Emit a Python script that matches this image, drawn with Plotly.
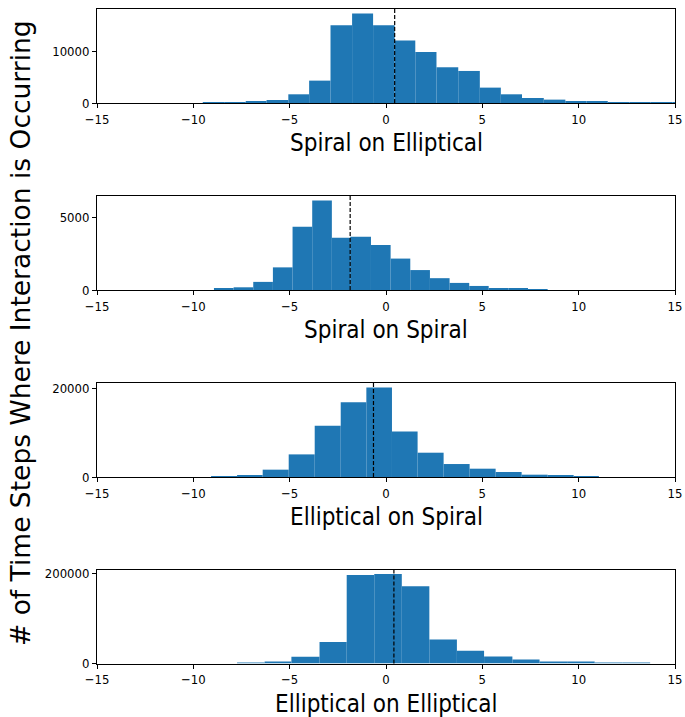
import plotly.graph_objects as go

W, H = 685, 717

# ---------------- data ----------------
titles = ["Spiral on Elliptical", "Spiral on Spiral", "Elliptical on Spiral", "Elliptical on Elliptical"]

edges_se = [-9.51, -8.40, -7.28, -6.20, -5.07, -3.99, -2.88, -1.76, -0.67, 0.45, 1.52, 2.62, 3.75,
            4.87, 5.96, 7.06, 8.19, 9.31, 10.40, 11.51, 12.63, 13.74, 14.86, 15.97]
counts_se = [150, 170, 200, 580, 1680, 4320, 15030, 17290, 15030, 12060, 9870, 6900, 6190,
             2970, 1680, 970, 650, 390, 220, 180, 160, 150, 140]
mean_se = 0.45

edges_ss = [-8.93, -7.91, -6.89, -5.87, -4.85, -3.83, -2.81, -1.86, -0.78, 0.24, 1.26, 2.28, 3.30,
            4.32, 5.33, 6.35, 7.37, 8.39]
counts_ss = [70, 186, 558, 1558, 4349, 6163, 3605, 3674, 3093, 2163, 1372, 814, 488, 279, 140, 70, 60]
mean_ss = -1.86

edges_es = [-9.08, -7.73, -6.40, -5.05, -3.70, -2.35, -1.02, 0.31, 1.64, 2.99, 4.34, 5.69, 7.04,
            8.39, 9.74, 11.05]
counts_es = [225, 450, 1650, 5090, 11540, 16850, 20150, 10260, 5470, 2920, 1870, 1120, 520, 300, 225]
mean_es = -0.65

edges_ee = [-7.73, -6.30, -4.91, -3.45, -2.04, -0.61, 0.82, 2.25, 3.68, 5.09, 6.56, 7.97, 9.40,
            10.83, 12.28, 13.71]
counts_ee = [2200, 4400, 14800, 47400, 196300, 198500, 171100, 53300, 28100, 15600, 8900, 4400,
             3000, 2200, 2200]
mean_ee = 0.41

y_ticks = [[0, 10000], [0, 5000], [0, 20000], [0, 200000]]
x_ticks = [-15, -10, -5, 0, 5, 10, 15]

panels = [
    (edges_se, counts_se, mean_se),
    (edges_ss, counts_ss, mean_ss),
    (edges_es, counts_es, mean_es),
    (edges_ee, counts_ee, mean_ee),
]

# ---------------- layout ----------------
TICKFONT = "DejaVu Sans Condensed, Liberation Sans Narrow, DejaVu Sans, sans-serif"
LABELFONT = TICKFONT
x0_px, x1_px = 97, 675
tops = [9, 196, 383, 569.5]
ph = 94

def fmt(v):
    s = str(abs(v))
    return ("\u2212" + s) if v < 0 else s

fig = go.Figure()
layout = dict(
    width=W, height=H,
    margin=dict(l=0, r=0, t=0, b=0, autoexpand=False),
    paper_bgcolor="white", plot_bgcolor="white",
    showlegend=False,
    annotations=[], shapes=[],
)

for i, (edges, counts, mean) in enumerate(panels):
    n = i + 1
    xa = "x" if n == 1 else f"x{n}"
    ya = "y" if n == 1 else f"y{n}"
    centers = [(edges[k] + edges[k + 1]) / 2 for k in range(len(counts))]
    widths = [edges[k + 1] - edges[k] for k in range(len(counts))]
    fig.add_trace(go.Bar(x=centers, y=counts, width=widths, xaxis=xa, yaxis=ya,
                         marker=dict(color="#1f77b4", line=dict(width=0)),
                         hoverinfo="skip"))
    top = tops[i]
    bot = top + ph
    ymax = max(counts) * 1.05
    layout["xaxis" if n == 1 else f"xaxis{n}"] = dict(
        domain=[x0_px / W, x1_px / W], anchor=ya, range=[-15, 15],
        tickvals=x_ticks, ticktext=[fmt(v) for v in x_ticks],
        ticks="outside", ticklen=4, tickwidth=1, tickcolor="black",
        showline=True, linecolor="black", linewidth=1, mirror=True,
        showgrid=False, zeroline=False, automargin=False,
        tickfont=dict(family=TICKFONT, size=13, color="black"),
    )
    layout["yaxis" if n == 1 else f"yaxis{n}"] = dict(
        domain=[1 - bot / H, 1 - top / H], anchor=xa, range=[0, ymax],
        tickvals=y_ticks[i], ticktext=[str(v) for v in y_ticks[i]],
        ticks="outside", ticklen=4, tickwidth=1, tickcolor="black",
        showline=True, linecolor="black", linewidth=1, mirror=True,
        showgrid=False, zeroline=False, automargin=False,
        tickfont=dict(family=TICKFONT, size=13, color="black"),
    )
    layout["shapes"].append(dict(type="line", xref=xa, yref=f"{ya} domain",
                                 x0=mean, x1=mean, y0=0, y1=1,
                                 line=dict(color="black", width=1.2, dash="4px,2px")))
    layout["annotations"].append(dict(
        text=titles[i], xref="paper", yref="paper",
        x=(x0_px + x1_px) / 2 / W, y=1 - (bot + 40) / H,
        xanchor="center", yanchor="middle", showarrow=False,
        font=dict(family=LABELFONT, size=24, color="black")))

layout["annotations"].append(dict(
    text="# of Time Steps Where Interaction is Occurring", xref="paper", yref="paper",
    x=21 / W, y=1 - 333 / H, xanchor="center", yanchor="middle", textangle=-90,
    showarrow=False, font=dict(family="DejaVu Sans, sans-serif", size=26.5, color="black")))

fig.update_layout(**layout)
fig.write_html(
    "out.html",
    config={"displayModeBar": False},
    post_script="document.body.style.margin='0';document.body.style.padding='0';"
                "document.body.style.overflow='hidden';",
)
